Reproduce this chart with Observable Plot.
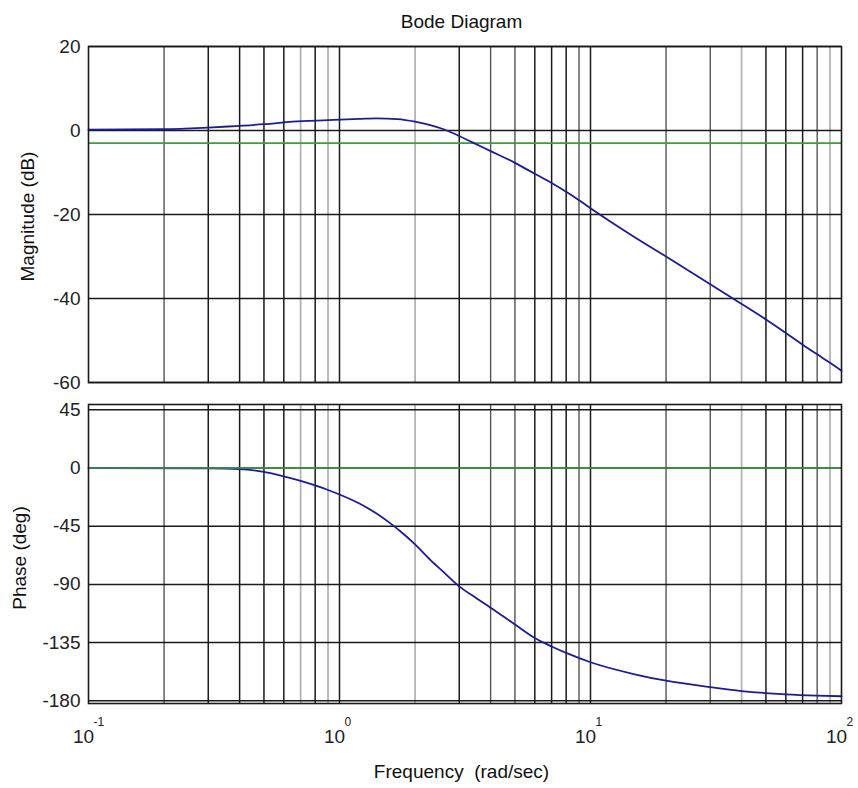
<!DOCTYPE html>
<html>
<head>
<meta charset="utf-8">
<script src="https://cdn.jsdelivr.net/npm/d3@7"></script>
<script src="https://cdn.jsdelivr.net/npm/@observablehq/plot@0.6"></script>
<style>
  body { margin: 0; background: #fff; }
  #chart svg { display: block; }
</style>
</head>
<body>
<div id="chart"></div>
<script>
// ---- Data ----
const titleText = "Bode Diagram";
const magLabel = "Magnitude (dB)";
const phaseLabel = "Phase (deg)";
const freqLabel = "Frequency  (rad/sec)";

const magFreq = [0.1, 0.2, 0.3, 0.36, 0.5, 0.65, 0.9, 1.2, 1.4, 1.7, 2.0, 2.3, 2.6, 3.0, 3.4, 4, 5, 6, 7, 8, 9, 10, 15, 20, 30, 40, 50, 60, 70, 80, 90, 100];
const magDb   = [0.2, 0.3, 0.7, 0.95, 1.5, 2.1, 2.45, 2.75, 2.9, 2.7, 2.1, 1.3, 0.3, -1.3, -2.9, -4.9, -7.7, -10.3, -12.5, -14.6, -16.6, -18.5, -25.4, -30.0, -36.6, -41.3, -45.0, -48.2, -51.0, -53.3, -55.3, -57.2];

const phaseFreq = [0.1, 0.3, 0.4, 0.5, 0.6, 0.7, 0.8, 0.9, 1.0, 1.2, 1.4, 1.6, 1.8, 2.0, 2.3, 2.6, 3.0, 3.5, 4, 5, 6, 7, 8, 10, 15, 20, 30, 40, 60, 80, 100];
const phaseDeg  = [0, -0.3, -0.8, -3, -6.5, -10, -13.5, -17, -20.5, -27.5, -35, -43, -51, -59, -71, -80.5, -91.5, -100.5, -108, -121, -131.5, -138, -143, -150.2, -159.5, -164.5, -169.5, -172.5, -175, -176, -176.5];

const magRef = [-3];     // green reference line (dB)
const phaseRef = [0];    // green reference line (deg)

const magTicks = [20, 0, -20, -40, -60];
const phaseTicks = [45, 0, -45, -90, -135, -180];

const gridFreqs = [0.2, 0.3, 0.4, 0.5, 0.6, 0.7, 0.8, 0.9, 1,
                   2, 3, 4, 5, 6, 7, 8, 9, 10,
                   20, 30, 40, 50, 60, 70, 80, 90];
const xTicks = [0.1, 1, 10, 100];
const xTickBase = ["10", "10", "10", "10"];
const xTickExp = ["-1", "0", "1", "2"];

// ---- Styling (grid shades mimic the reference rendering) ----
const midSet = new Set([0.2, 4, 5, 9, 20, 30, 80]);
const lightSet = new Set([0.7, 0.9, 2, 40, 90]);
const darkGrid = gridFreqs.filter(f => !midSet.has(f) && !lightSet.has(f));
const midGrid = gridFreqs.filter(f => midSet.has(f));
const lightGrid = gridFreqs.filter(f => lightSet.has(f));

const font = "'Liberation Sans', Arial, Helvetica, sans-serif";
const ink = "#1a1a1a";
const green = "#3aa03a";
const blue = "#1c1c96";

const magData = magFreq.map((f, i) => ({f, v: magDb[i]}));
const phaseData = phaseFreq.map((f, i) => ({f, v: phaseDeg[i]}));

function vGrid() {
  return [
    Plot.ruleX(lightGrid, {x: d => d, stroke: "#b4b4b4", strokeWidth: 1.8}),
    Plot.ruleX(midGrid, {x: d => d, stroke: "#555", strokeWidth: 1.4}),
    Plot.ruleX(darkGrid, {x: d => d, stroke: ink, strokeWidth: 1.5})
  ];
}

const magPlot = Plot.plot({
  width: 858,
  height: 394,
  marginLeft: 88,
  marginRight: 17,
  marginTop: 46,
  marginBottom: 12,
  style: {fontFamily: font, fontSize: "19px", background: "#fff", color: "#222"},
  x: {type: "log", domain: [0.1, 100], axis: null},
  y: {domain: [-60, 20], ticks: magTicks, tickSize: 0, tickPadding: 8, tickFormat: d => String(d), label: null},
  marks: [
    ...vGrid(),
    Plot.ruleY(magTicks, {y: d => d, stroke: ink, strokeWidth: 1.5}),
    Plot.ruleY(magRef, {y: d => d, stroke: green, strokeWidth: 1.7}),
    Plot.line(magData, {x: "f", y: "v", stroke: blue, strokeWidth: 1.8, curve: "monotone-x"}),
    Plot.frame({stroke: ink, strokeWidth: 1.6}),
    Plot.text([titleText], {text: d => d, frameAnchor: "top", lineAnchor: "bottom", dy: -19, dx: -3.5, fontSize: 19, fill: "#111"}),
    Plot.text([magLabel], {text: d => d, frameAnchor: "left", textAnchor: "middle", rotate: -90, dx: -60.7, dy: 2, fontSize: 19, fill: "#111"})
  ]
});

const phasePlot = Plot.plot({
  width: 858,
  height: 394,
  marginLeft: 88,
  marginRight: 17,
  marginTop: 10,
  marginBottom: 85,
  style: {fontFamily: font, fontSize: "19px", background: "#fff", color: "#222", whiteSpace: "pre"},
  x: {type: "log", domain: [0.1, 100], axis: null},
  y: {domain: [-182.1, 49.1], ticks: phaseTicks, tickSize: 0, tickPadding: 8, tickFormat: d => String(d), label: null},
  marks: [
    ...vGrid(),
    Plot.ruleY(phaseTicks, {y: d => d, stroke: ink, strokeWidth: 1.5}),
    Plot.line(phaseData, {x: "f", y: "v", stroke: blue, strokeWidth: 1.8, curve: "monotone-x"}),
    Plot.ruleY(phaseRef, {y: d => d, stroke: green, strokeWidth: 1.7}),
    Plot.frame({stroke: ink, strokeWidth: 1.6}),
    Plot.text(xTicks, {x: d => d, text: (d, i) => xTickBase[i], frameAnchor: "bottom", lineAnchor: "bottom", dy: 39, dx: -5, fontSize: 19, fill: "#222"}),
    Plot.text(xTicks, {x: d => d, text: (d, i) => xTickExp[i], frameAnchor: "bottom", lineAnchor: "bottom", textAnchor: "start", dy: 22, dx: 5, fontSize: 12, fill: "#222"}),
    Plot.text([freqLabel], {text: d => d, frameAnchor: "bottom", lineAnchor: "bottom", dy: 74, dx: -3.5, fontSize: 19, fill: "#111"}),
    Plot.text([phaseLabel], {text: d => d, frameAnchor: "left", textAnchor: "middle", rotate: -90, dx: -69, dy: 4, fontSize: 19, fill: "#111"})
  ]
});

const chart = document.getElementById("chart");
chart.appendChild(magPlot);
chart.appendChild(phasePlot);
</script>
</body>
</html>
